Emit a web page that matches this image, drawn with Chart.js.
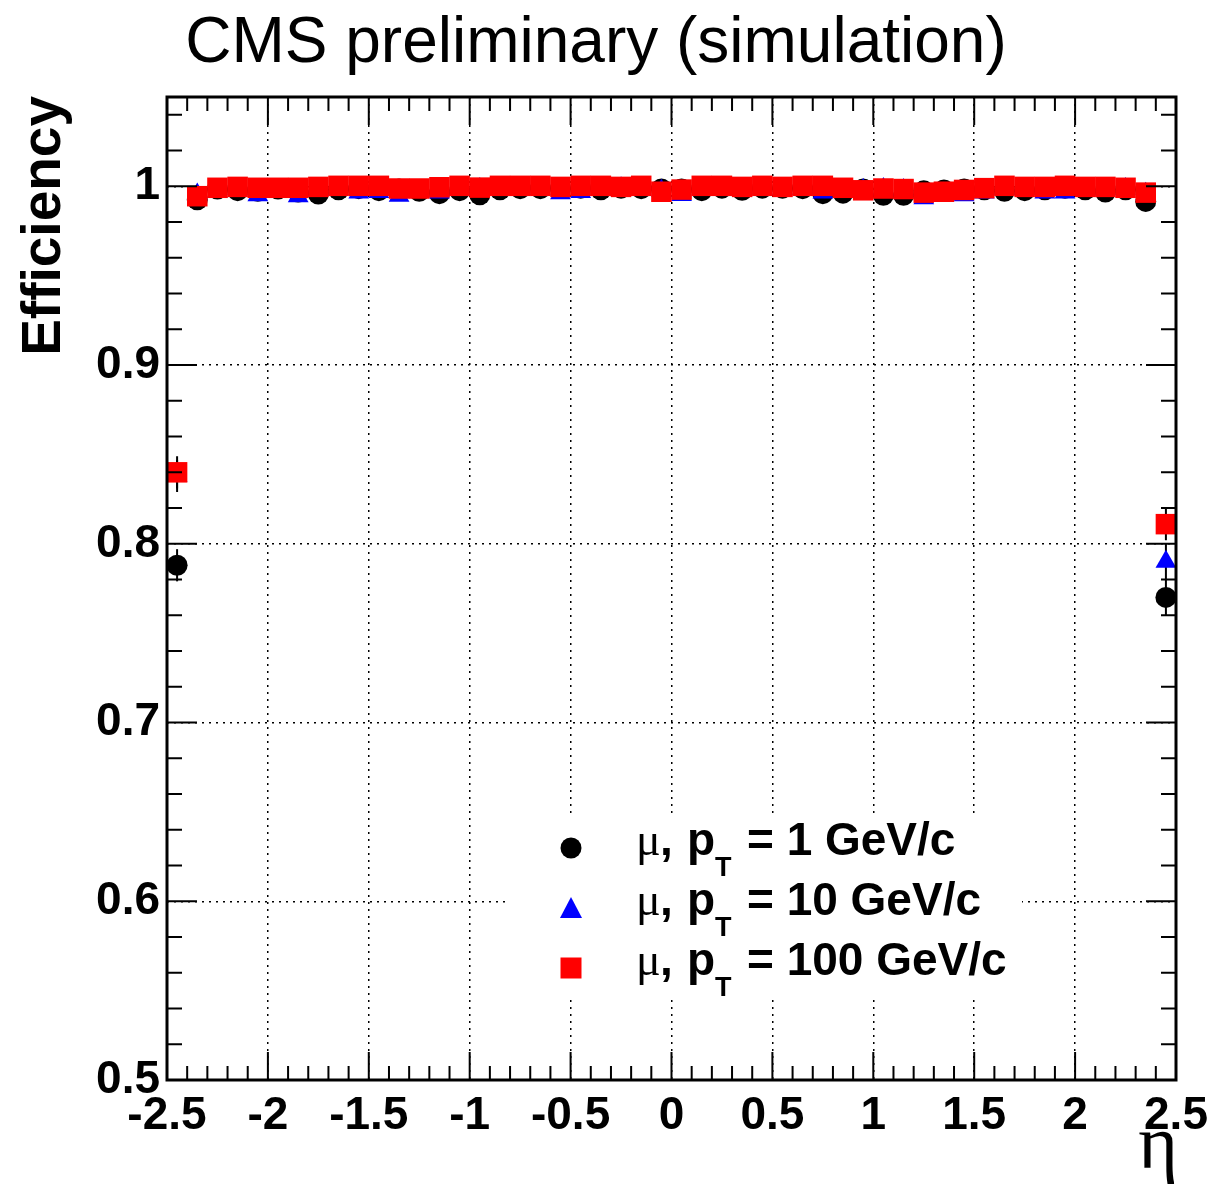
<!DOCTYPE html>
<html>
<head>
<meta charset="utf-8">
<script src="https://cdn.jsdelivr.net/npm/chart.js@4.4.1/dist/chart.umd.min.js"></script>
<style>
  html, body { margin: 0; padding: 0; background: #fff; }
  canvas { display: block; }
</style>
</head>
<body>
<canvas id="c" width="1209" height="1188"></canvas>
<script>
// bin centres in eta (bin width 0.1)
const eta = [
  -2.45, -2.35, -2.25, -2.15, -2.05, -1.95, -1.85, -1.75, -1.65, -1.55,
  -1.45, -1.35, -1.25, -1.15, -1.05, -0.95, -0.85, -0.75, -0.65, -0.55,
  -0.45, -0.35, -0.25, -0.15, -0.05,  0.05,  0.15,  0.25,  0.35,  0.45,
   0.55,  0.65,  0.75,  0.85,  0.95,  1.05,  1.15,  1.25,  1.35,  1.45,
   1.55,  1.65,  1.75,  1.85,  1.95,  2.05,  2.15,  2.25,  2.35,  2.45
];

// efficiency, pT = 1 GeV/c
const eff1 = [
  0.788, 0.9925, 0.9985, 0.9976, 0.9972, 0.9985, 0.9968, 0.9957, 0.9981, 0.9987,
  0.9976, 0.9985, 0.9972, 0.9959, 0.9976, 0.9953, 0.9981, 0.9987, 0.9987, 0.9990,
  0.9990, 0.9981, 0.9990, 0.9987, 0.9985, 0.9985, 0.9976, 0.9990, 0.9978, 0.9990,
  0.9990, 0.9987, 0.9959, 0.9962, 0.9985, 0.9950, 0.9950, 0.9975, 0.9980, 0.9985,
  0.9981, 0.9972, 0.9976, 0.9981, 0.9990, 0.9981, 0.9968, 0.9981, 0.9916, 0.770
];

// efficiency, pT = 10 GeV/c
const eff10 = [
  0.838, 0.9955, 0.9970, 0.9985, 0.9950, 0.9975, 0.9945, 0.9980, 0.9985, 0.9965,
  0.9969, 0.9947, 0.9975, 0.9965, 0.9980, 0.9985, 0.9985, 0.9990, 0.9985, 0.9961,
  0.9969, 0.9985, 0.9990, 0.9990, 0.9975, 0.9951, 0.9985, 0.9990, 0.9985, 0.9990,
  0.9985, 0.9990, 0.9965, 0.9980, 0.9980, 0.9985, 0.9980, 0.9933, 0.9960, 0.9950,
  0.9965, 0.9985, 0.9985, 0.9965, 0.9965, 0.9985, 0.9985, 0.9985, 0.9958, 0.790
];

// efficiency, pT = 100 GeV/c
const eff100 = [
  0.840, 0.9945, 0.9992, 0.9997, 0.9992, 0.9992, 0.9992, 0.9997, 1.0003, 1.0003,
  1.0003, 0.9988, 0.9988, 0.9995, 1.0003, 0.9993, 1.0003, 1.0003, 1.0003, 0.9997,
  1.0003, 1.0003, 0.9997, 1.0003, 0.9970, 0.9982, 1.0003, 1.0003, 0.9997, 1.0003,
  0.9997, 1.0003, 1.0003, 0.9992, 0.9978, 0.9988, 0.9985, 0.9965, 0.9970, 0.9980,
  0.9990, 1.0003, 0.9997, 0.9997, 1.0003, 0.9997, 0.9997, 0.9992, 0.9965, 0.811
];

// statistical errors (only the edge bins are visibly larger than the markers)
const err1 = [
  0.009, 0.002, 0.001, 0.001, 0.001, 0.001, 0.001, 0.001, 0.001, 0.001,
  0.001, 0.001, 0.001, 0.001, 0.001, 0.001, 0.001, 0.001, 0.001, 0.001,
  0.001, 0.001, 0.001, 0.001, 0.001, 0.001, 0.001, 0.001, 0.001, 0.001,
  0.001, 0.001, 0.001, 0.001, 0.001, 0.001, 0.001, 0.001, 0.001, 0.001,
  0.001, 0.001, 0.001, 0.001, 0.001, 0.001, 0.001, 0.001, 0.002, 0.010
];
const err10 = [
  0.009, 0.002, 0.001, 0.001, 0.001, 0.001, 0.001, 0.001, 0.001, 0.001,
  0.001, 0.001, 0.001, 0.001, 0.001, 0.001, 0.001, 0.001, 0.001, 0.001,
  0.001, 0.001, 0.001, 0.001, 0.001, 0.001, 0.001, 0.001, 0.001, 0.001,
  0.001, 0.001, 0.001, 0.001, 0.001, 0.001, 0.001, 0.001, 0.001, 0.001,
  0.001, 0.001, 0.001, 0.001, 0.001, 0.001, 0.001, 0.001, 0.002, 0.010
];
const err100 = [
  0.009, 0.002, 0.001, 0.001, 0.001, 0.001, 0.001, 0.001, 0.001, 0.001,
  0.001, 0.001, 0.001, 0.001, 0.001, 0.001, 0.001, 0.001, 0.001, 0.001,
  0.001, 0.001, 0.001, 0.001, 0.001, 0.001, 0.001, 0.001, 0.001, 0.001,
  0.001, 0.001, 0.001, 0.001, 0.001, 0.001, 0.001, 0.001, 0.001, 0.001,
  0.001, 0.001, 0.001, 0.001, 0.001, 0.001, 0.001, 0.001, 0.002, 0.009
];

const legendLabels = ['1 GeV/c', '10 GeV/c', '100 GeV/c'];
const titleText = 'CMS preliminary (simulation)';
const yTitle = 'Efficiency';
const xTitle = '\u03B7';

const sans = "'Liberation Sans', Arial, Helvetica, sans-serif";
const serif = "'Liberation Serif', 'DejaVu Serif', serif";

const pts = (ys) => eta.map((x, i) => ({ x, y: ys[i] }));

// ── marker helper (legend) ───────────────────────────────
function marker(ctx, style, x, y, color) {
  ctx.save();
  ctx.fillStyle = color;
  ctx.beginPath();
  if (style === 'circle') {
    ctx.arc(x, y, 10.5, 0, Math.PI * 2);
  } else if (style === 'triangle') {
    ctx.moveTo(x, y - 11);
    ctx.lineTo(x + 11, y + 10);
    ctx.lineTo(x - 11, y + 10);
    ctx.closePath();
  } else {
    ctx.rect(x - 10.5, y - 10.5, 21, 21);
  }
  ctx.fill();
  ctx.restore();
}

// ── legend box + error bars (under the markers) ──────────
const underlay = {
  id: 'underlay',
  beforeDatasetsDraw(chart) {
    const { ctx, scales: { x, y } } = chart;

    // legend background hides the grid
    ctx.save();
    ctx.fillStyle = '#fff';
    ctx.fillRect(508, 815, 514, 184);
    ctx.restore();

    // vertical error bars, no caps
    ctx.save();
    ctx.strokeStyle = '#000';
    ctx.lineWidth = 2;
    [[eff1, err1], [eff10, err10], [eff100, err100]].forEach(([vals, errs]) => {
      vals.forEach((v, i) => {
        const px = x.getPixelForValue(eta[i]);
        ctx.beginPath();
        ctx.moveTo(px, y.getPixelForValue(v - errs[i]));
        ctx.lineTo(px, y.getPixelForValue(v + errs[i]));
        ctx.stroke();
      });
    });
    ctx.restore();

    // legend entries
    const styles = [['circle', '#000'], ['triangle', '#0000ff'], ['rect', '#ff0000']];
    const rows = [855, 915, 975];
    rows.forEach((base, i) => {
      marker(ctx, styles[i][0], 571, base - 7, styles[i][1]);
      ctx.save();
      ctx.fillStyle = '#000';
      ctx.textBaseline = 'alphabetic';
      ctx.textAlign = 'left';
      ctx.font = '46px ' + serif;
      ctx.fillText('\u03BC', 636, base);
      ctx.font = 'bold 46px ' + sans;
      ctx.fillText(',', 660, base);
      ctx.fillText('p', 687, base);
      ctx.font = 'bold 27px ' + sans;
      ctx.fillText('T', 715, base + 21);
      ctx.font = 'bold 46px ' + sans;
      ctx.fillText('= ' + legendLabels[i], 747, base);
      ctx.restore();
    });
  }
};

// ── frame, inward ticks, titles ───────────────────────────
const frame = {
  id: 'frame',
  afterDraw(chart) {
    const { ctx, chartArea: a, scales: { x, y } } = chart;
    ctx.save();
    ctx.strokeStyle = '#000';

    ctx.lineWidth = 2;
    for (let k = -25; k <= 25; k++) {
      const px = x.getPixelForValue(k / 10);
      const len = k % 5 === 0 ? 28 : 14;
      ctx.beginPath();
      ctx.moveTo(px, a.bottom); ctx.lineTo(px, a.bottom - len);
      ctx.moveTo(px, a.top);    ctx.lineTo(px, a.top + len);
      ctx.stroke();
    }
    for (let k = 25; k <= 52; k++) {
      const py = y.getPixelForValue(k / 50);
      const len = k % 5 === 0 ? 30 : 15;
      ctx.beginPath();
      ctx.moveTo(a.left, py);  ctx.lineTo(a.left + len, py);
      ctx.moveTo(a.right, py); ctx.lineTo(a.right - len, py);
      ctx.stroke();
    }

    ctx.lineWidth = 3;
    ctx.strokeRect(a.left, a.top, a.right - a.left, a.bottom - a.top);

    ctx.fillStyle = '#000';
    ctx.textBaseline = 'alphabetic';

    ctx.font = '64px ' + sans;
    ctx.textAlign = 'center';
    ctx.fillText(titleText, 596, 62);

    ctx.font = '76px ' + serif;
    ctx.textAlign = 'right';
    ctx.fillText(xTitle, 1178, 1168);

    ctx.translate(60, 96);
    ctx.rotate(-Math.PI / 2);
    ctx.font = 'bold 55px ' + sans;
    ctx.textAlign = 'right';
    ctx.fillText(yTitle, 0, 0);
    ctx.restore();
  }
};

const gridStyle = {
  color: '#000',
  lineWidth: 1.5,
  drawTicks: false,
};

const noPad = (s) => {
  s.paddingLeft = 0; s.paddingRight = 0;
  s.paddingTop = 0; s.paddingBottom = 0;
};

new Chart(document.getElementById('c'), {
  type: 'scatter',
  data: {
    datasets: [
      { label: legendLabels[0], data: pts(eff1), order: 3,
        pointStyle: 'circle', pointRadius: 10.5, backgroundColor: '#000', pointBorderWidth: 0 },
      { label: legendLabels[1], data: pts(eff10), order: 2,
        pointStyle: 'triangle', pointRadius: 12, backgroundColor: '#0000ff', pointBorderWidth: 0 },
      { label: legendLabels[2], data: pts(eff100), order: 1,
        pointStyle: 'rect', pointRadius: 14.5, backgroundColor: '#ff0000', pointBorderWidth: 0 },
    ],
  },
  options: {
    responsive: false,
    devicePixelRatio: 1,
    animation: false,
    events: [],
    layout: { padding: { top: 97, right: 33, left: 0, bottom: 0 } },
    plugins: {
      legend: { display: false },
      tooltip: { enabled: false },
    },
    scales: {
      x: {
        type: 'linear',
        min: -2.5, max: 2.5,
        grid: gridStyle,
        border: { display: false, dash: [2, 5] },
        ticks: {
          stepSize: 0.5,
          includeBounds: false,
          padding: 9,
          color: '#000',
          font: { family: sans, weight: 'bold', size: 46 },
          maxRotation: 0,
          autoSkip: false,
          callback: (v) => String(+v.toFixed(1)),
        },
        afterFit: (s) => { s.height = 108; noPad(s); },
      },
      y: {
        type: 'linear',
        min: 0.5, max: 1.05,
        grid: gridStyle,
        border: { display: false, dash: [2, 5] },
        ticks: {
          stepSize: 0.1,
          includeBounds: false,
          padding: 7,
          color: '#000',
          font: { family: sans, weight: 'bold', size: 46 },
          autoSkip: false,
          callback: (v) => String(+v.toFixed(1)),
        },
        afterFit: (s) => { s.width = 167; noPad(s); },
      },
    },
  },
  plugins: [underlay, frame],
});
</script>
</body>
</html>
